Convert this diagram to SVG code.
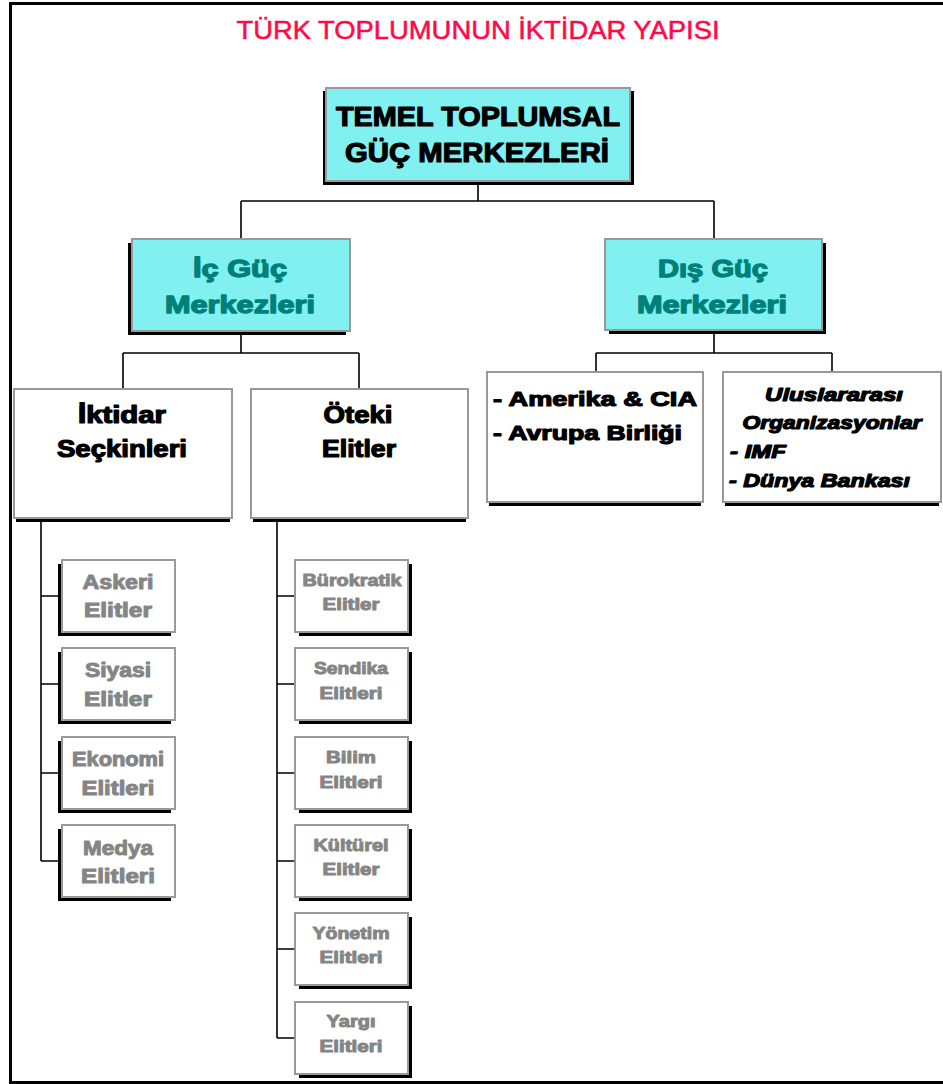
<svg xmlns="http://www.w3.org/2000/svg" width="943" height="1084" viewBox="0 0 943 1084">
<style>
.t{font-family:"Liberation Sans",Arial,sans-serif;font-weight:bold;text-anchor:middle}
.blk{fill:#000;stroke:#000;stroke-width:1.2;stroke-linejoin:round}
.teal{fill:#008079;stroke:#008079;stroke-width:1.3;stroke-linejoin:round}
.gry{fill:#858585;stroke:#858585;stroke-width:1;stroke-linejoin:round}
.it{font-style:italic}
.cy{fill:#80f0f0;stroke:#999;stroke-width:2}
.wb{fill:#fff;stroke:#999;stroke-width:2}
.sh{fill:#000}
.cn{fill:none;stroke:#000;stroke-width:1.6}
</style>
<rect width="943" height="1084" fill="#fff"/>
<path d="M946,3.5 H10.5 V1082.5 H946" fill="none" stroke="#000" stroke-width="3"/>
<text x="478" y="39" font-family="Liberation Sans, Arial, sans-serif" font-size="25" fill="#ff0a48" stroke="#ff0a48" stroke-width="0.5" text-anchor="middle" textLength="483" lengthAdjust="spacingAndGlyphs">TÜRK TOPLUMUNUN İKTİDAR YAPISI</text>

<g id="connectors">
<path class="cn" d="M478,181 V201 M241,201 H714 M241,201 V239 M714,201 V239"/>
<path class="cn" d="M241,331 V353 M123,353 H359 M123,353 V389 M359,353 V389"/>
<path class="cn" d="M714,330 V353 M596,353 H832 M596,353 V372 M832,353 V372"/>
<path class="cn" d="M41,522 V861 M41,596 H62 M41,684 H62 M41,773 H62 M41,861 H62"/>
<path class="cn" d="M277,522 V1038 M277,596 H295 M277,684 H295 M277,773 H295 M277,861 H295 M277,949 H295 M277,1038 H295"/>
</g>

<g id="n-temel">
<rect class="sh" x="323" y="91" width="311" height="94"/>
<rect class="cy" x="326" y="88" width="304" height="93"/>
<text class="t blk" x="478" y="126" font-size="27" textLength="284" lengthAdjust="spacingAndGlyphs">TEMEL TOPLUMSAL</text>
<text class="t blk" x="477" y="162" font-size="27" textLength="264" lengthAdjust="spacingAndGlyphs">GÜÇ MERKEZLERİ</text>
</g>

<g id="n-ic">
<rect class="sh" x="128" y="243" width="218" height="92"/>
<rect class="cy" x="132" y="239" width="218" height="92"/>
<text class="t teal" x="240" y="277" font-size="24" textLength="94" lengthAdjust="spacingAndGlyphs">İç Güç</text>
<text class="t teal" x="240" y="313" font-size="24" textLength="150" lengthAdjust="spacingAndGlyphs">Merkezleri</text>
</g>

<g id="n-dis">
<rect class="sh" x="609" y="243" width="217" height="91"/>
<rect class="cy" x="605" y="239" width="217" height="91"/>
<text class="t teal" x="713" y="277" font-size="24" textLength="110" lengthAdjust="spacingAndGlyphs">Dış Güç</text>
<text class="t teal" x="712" y="313" font-size="24" textLength="150" lengthAdjust="spacingAndGlyphs">Merkezleri</text>
</g>

<g id="n-iktidar">
<rect class="sh" x="16" y="393" width="214" height="129"/>
<rect class="wb" x="14" y="389" width="218" height="129"/>
<text class="t blk" x="122" y="423" font-size="23" textLength="88" lengthAdjust="spacingAndGlyphs">İktidar</text>
<text class="t blk" x="122" y="457" font-size="23" textLength="130" lengthAdjust="spacingAndGlyphs">Seçkinleri</text>
</g>

<g id="n-oteki">
<rect class="sh" x="253" y="393" width="213" height="129"/>
<rect class="wb" x="251" y="389" width="217" height="129"/>
<text class="t blk" x="358" y="423" font-size="23" textLength="69" lengthAdjust="spacingAndGlyphs">Öteki</text>
<text class="t blk" x="359" y="457" font-size="23" textLength="74" lengthAdjust="spacingAndGlyphs">Elitler</text>
</g>

<g id="n-amerika">
<rect class="sh" x="489" y="376" width="212" height="130"/>
<rect class="wb" x="487" y="372" width="216" height="130"/>
<text class="t blk" x="493" y="406" font-size="21" style="text-anchor:start" textLength="204" lengthAdjust="spacingAndGlyphs">- Amerika &amp; CIA</text>
<text class="t blk" x="493" y="440" font-size="21" style="text-anchor:start" textLength="189" lengthAdjust="spacingAndGlyphs">- Avrupa Birliği</text>
</g>

<g id="n-uluslararasi">
<rect class="sh" x="725" y="376" width="214" height="130"/>
<rect class="wb" x="723" y="372" width="218" height="130"/>
<text class="t blk it" x="834" y="401" font-size="18" textLength="138" lengthAdjust="spacingAndGlyphs">Uluslararası</text>
<text class="t blk it" x="832" y="429" font-size="18" textLength="179" lengthAdjust="spacingAndGlyphs">Organizasyonlar</text>
<text class="t blk it" x="730" y="458" font-size="18" style="text-anchor:start" textLength="56" lengthAdjust="spacingAndGlyphs">- IMF</text>
<text class="t blk it" x="729" y="487" font-size="18" style="text-anchor:start" textLength="181" lengthAdjust="spacingAndGlyphs">- Dünya Bankası</text>
</g>

<g id="n-askeri">
<rect class="sh" x="58" y="564" width="113" height="72"/>
<rect class="wb" x="62" y="560" width="113" height="72"/>
<text class="t gry" x="118" y="589" font-size="20" textLength="71" lengthAdjust="spacingAndGlyphs">Askeri</text>
<text class="t gry" x="118" y="617" font-size="20" textLength="68" lengthAdjust="spacingAndGlyphs">Elitler</text>
</g>
<g id="n-siyasi">
<rect class="sh" x="58" y="652" width="113" height="72"/>
<rect class="wb" x="62" y="648" width="113" height="72"/>
<text class="t gry" x="118" y="677" font-size="20" textLength="66" lengthAdjust="spacingAndGlyphs">Siyasi</text>
<text class="t gry" x="118" y="706" font-size="20" textLength="68" lengthAdjust="spacingAndGlyphs">Elitler</text>
</g>
<g id="n-ekonomi">
<rect class="sh" x="58" y="741" width="113" height="72"/>
<rect class="wb" x="62" y="737" width="113" height="72"/>
<text class="t gry" x="118" y="766" font-size="20" textLength="92" lengthAdjust="spacingAndGlyphs">Ekonomi</text>
<text class="t gry" x="118" y="795" font-size="20" textLength="73" lengthAdjust="spacingAndGlyphs">Elitleri</text>
</g>
<g id="n-medya">
<rect class="sh" x="58" y="829" width="113" height="72"/>
<rect class="wb" x="62" y="825" width="113" height="72"/>
<text class="t gry" x="118" y="855" font-size="20" textLength="70" lengthAdjust="spacingAndGlyphs">Medya</text>
<text class="t gry" x="118" y="883" font-size="20" textLength="74" lengthAdjust="spacingAndGlyphs">Elitleri</text>
</g>

<g id="n-burokratik">
<rect class="sh" x="299" y="564" width="113" height="72"/>
<rect class="wb" x="295" y="560" width="113" height="72"/>
<text class="t gry" x="352" y="586" font-size="17" textLength="99" lengthAdjust="spacingAndGlyphs">Bürokratik</text>
<text class="t gry" x="351" y="610" font-size="17" textLength="57" lengthAdjust="spacingAndGlyphs">Elitler</text>
</g>
<g id="n-sendika">
<rect class="sh" x="299" y="652" width="113" height="72"/>
<rect class="wb" x="295" y="648" width="113" height="72"/>
<text class="t gry" x="351" y="674" font-size="17" textLength="74" lengthAdjust="spacingAndGlyphs">Sendika</text>
<text class="t gry" x="351" y="699" font-size="17" textLength="63" lengthAdjust="spacingAndGlyphs">Elitleri</text>
</g>
<g id="n-bilim">
<rect class="sh" x="299" y="741" width="113" height="72"/>
<rect class="wb" x="295" y="737" width="113" height="72"/>
<text class="t gry" x="351" y="763" font-size="17" textLength="50" lengthAdjust="spacingAndGlyphs">Bilim</text>
<text class="t gry" x="351" y="788" font-size="17" textLength="63" lengthAdjust="spacingAndGlyphs">Elitleri</text>
</g>
<g id="n-kulturel">
<rect class="sh" x="299" y="829" width="113" height="72"/>
<rect class="wb" x="295" y="825" width="113" height="72"/>
<text class="t gry" x="351" y="851" font-size="17" textLength="75" lengthAdjust="spacingAndGlyphs">Kültürel</text>
<text class="t gry" x="351" y="875" font-size="17" textLength="57" lengthAdjust="spacingAndGlyphs">Elitler</text>
</g>
<g id="n-yonetim">
<rect class="sh" x="299" y="917" width="113" height="72"/>
<rect class="wb" x="295" y="913" width="113" height="72"/>
<text class="t gry" x="351" y="939" font-size="17" textLength="77" lengthAdjust="spacingAndGlyphs">Yönetim</text>
<text class="t gry" x="351" y="963" font-size="17" textLength="63" lengthAdjust="spacingAndGlyphs">Elitleri</text>
</g>
<g id="n-yargi">
<rect class="sh" x="299" y="1006" width="113" height="72"/>
<rect class="wb" x="295" y="1002" width="113" height="72"/>
<text class="t gry" x="351" y="1027" font-size="17" textLength="49" lengthAdjust="spacingAndGlyphs">Yargı</text>
<text class="t gry" x="351" y="1052" font-size="17" textLength="63" lengthAdjust="spacingAndGlyphs">Elitleri</text>
</g>
</svg>
